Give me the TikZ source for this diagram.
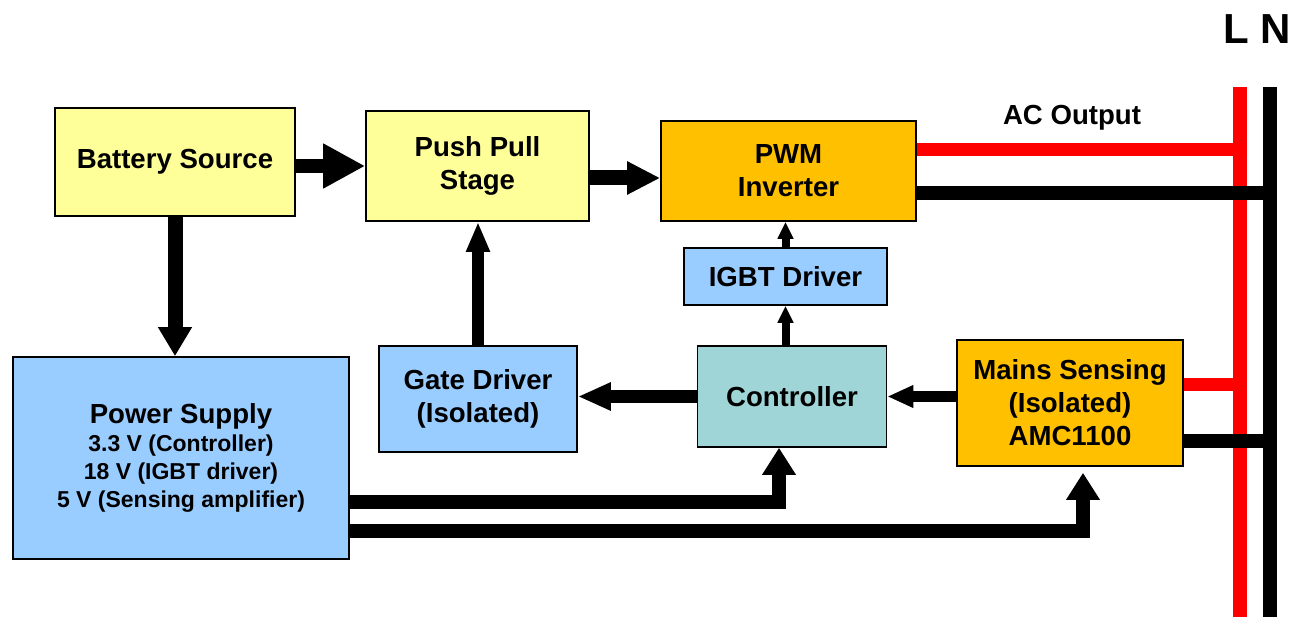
\documentclass[tikz,border=0pt]{standalone}
\usepackage{fontspec}
\setmainfont{Liberation Sans}
\usetikzlibrary{arrows.meta,positioning}

\definecolor{battyellow}{HTML}{FFFF99}
\definecolor{supplyblue}{HTML}{99CCFF}
\definecolor{ctrlteal}{HTML}{A0D5D8}
\definecolor{invorange}{HTML}{FFC000}

\begin{document}
\begin{tikzpicture}[
    x=1pt, y=-1pt,
    block/.style={
	draw,
	line width=1.6pt,
	inner sep=0pt,
	align=center,
	font=\bfseries\fontsize{27.6}{33}\selectfont
    },
    flow/.style n args={3}{line width=#1, -{Triangle[length=#2,width=#3]}},
    wire/.style={line width=14pt}
]
	\path[use as bounding box, fill=white] (0,0) rectangle (1293,617);

	\node[block, fill=battyellow, minimum width=240pt, minimum height=108pt] (batt) at (175,162) {Battery Source};
	\node[block, fill=battyellow, minimum width=223pt, minimum height=110pt] (push) at (477.5,166) {Push Pull\\Stage};
	\node[block, fill=invorange, minimum width=255pt, minimum height=100pt] (pwm) at (788.5,171) {PWM\\Inverter};
	\node[block, fill=supplyblue, minimum width=203pt, minimum height=57pt] (igbt) at (785.5,276.5) {IGBT Driver};
	\node[block, fill=supplyblue, minimum width=336pt, minimum height=202pt,
	    font=\bfseries\fontsize{23}{28}\selectfont] (psu) at (181,458)
	    {{\fontsize{27.6}{28}\selectfont Power Supply}\\3.3 V (Controller)\\18 V (IGBT driver)\\5 V (Sensing amplifier)};
	\node[block, fill=supplyblue, minimum width=198pt, minimum height=106pt] (gate) at (478,399) {Gate Driver\\(Isolated)};
	\node[block, fill=ctrlteal, minimum width=189pt, minimum height=101pt] (ctrl) at (792,396.5) {Controller};
	\node[block, fill=invorange, minimum width=226pt, minimum height=126pt] (mains) at (1070,403) {Mains Sensing\\(Isolated)\\AMC1100};

	\node[font=\bfseries\fontsize{42}{42}\selectfont] (ln) at (1257,29) {L N};
	\node[font=\bfseries\fontsize{27.6}{33}\selectfont] (acout) at (1072,118) {AC Output};

	% L / N bus
	\coordinate (ltop) at (1239.5,87);
	\coordinate (lbot) at (1239.5,617);
	\coordinate (ntop) at (1269.5,87);
	\coordinate (nbot) at (1269.5,617);

	\coordinate (acl) at ([yshift=21pt]pwm.east);
	\coordinate (acn) at ([yshift=-22pt]pwm.east);
	\coordinate (msl) at ([yshift=18pt]mains.east);
	\coordinate (msn) at ([yshift=-38pt]mains.east);

	\draw[wire, red] (ltop) -- (lbot);
	\draw[wire, red, line width=13pt] (acl) -- (acl -| ltop);
	\draw[wire, red, line width=13pt] (msl) -- (msl -| ltop);
	\draw[wire] (ntop) -- (nbot);
	\draw[wire] (acn) -- (acn -| ntop);
	\draw[wire] (msn) -- (msn -| ntop);

	% power path
	\coordinate (pp) at ([yshift=-7pt]pwm.west);
	\draw[flow={14pt}{42pt}{42pt}] (batt.east |- push.west) -- (push.west);
	\draw[flow={15pt}{33pt}{31pt}] (pp -| push.east) -- (pp);
	\draw[flow={15pt}{29pt}{32pt}] (batt.south) -- (batt.south |- psu.north);

	% drivers
	\draw[flow={12pt}{30pt}{22pt}] (gate.north) -- (gate.north |- push.south);
	\draw[flow={13pt}{33pt}{26pt}] (ctrl.west) -- (ctrl.west -| gate.east);
	\draw[flow={8pt}{17pt}{15pt}] (igbt.south |- ctrl.north) -- (igbt.south);
	\draw[flow={8pt}{17pt}{15pt}] (igbt.north) -- (igbt.north |- pwm.south);
	\draw[flow={11pt}{26pt}{21pt}] (ctrl.east -| mains.west) -- (ctrl.east);

	% supply feeds
	\coordinate (feedc) at ([yshift=-44pt]psu.east);
	\coordinate (feedm) at ([yshift=-73pt]psu.east);
	\draw[flow={14pt}{27pt}{32pt}] (feedc) -| ([xshift=-13pt]ctrl.south);
	\draw[flow={14pt}{27pt}{32pt}, shorten >=6pt] (feedm) -| ([xshift=13pt]mains.south);
\end{tikzpicture}
\end{document}
